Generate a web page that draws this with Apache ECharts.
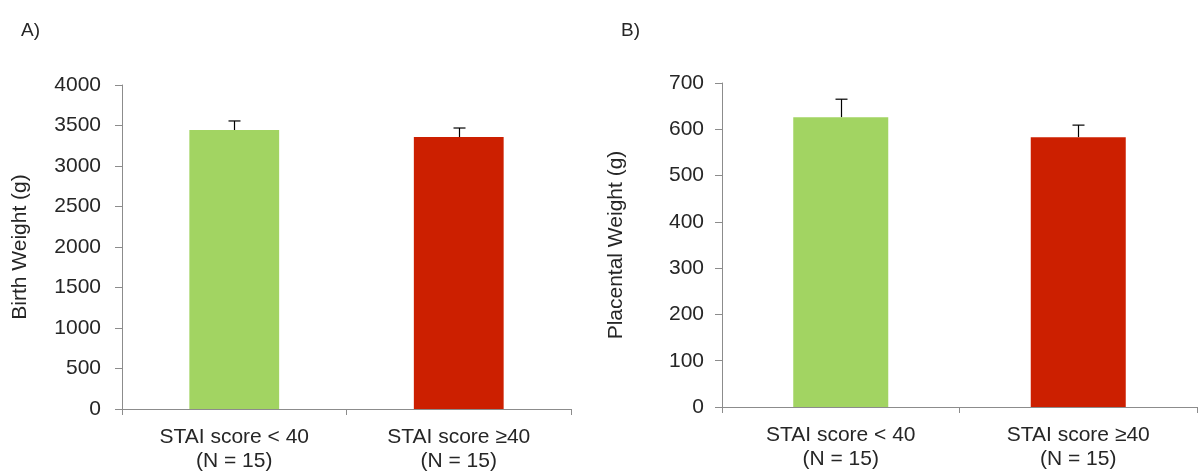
<!DOCTYPE html>
<html><head><meta charset="utf-8">
<script src="https://cdn.jsdelivr.net/npm/echarts@6/dist/echarts.min.js"></script>
<style>html,body{margin:0;padding:0;background:#fff}#c{width:1202px;height:474px}</style>
</head><body><div id="c"></div>
<script>
const categories = ['STAI score < 40\n(N = 15)', 'STAI score \u226540\n(N = 15)'];
const birthWeight = [3444, 3358];
const birthWeightErr = [112, 111];
const placentalWeight = [626, 583];
const placentalWeightErr = [39, 26];
const barColors = ['#a2d462', '#cc1f00'];
const yTicksA = {min: 0, max: 4000, interval: 500};
const yTicksB = {min: 0, max: 700, interval: 100};

const chart = echarts.init(document.getElementById('c'));
const font = 'Liberation Sans, Arial, sans-serif';
const axisGray = '#8c8c8c';
const textColor = '#262626';

function yAxis(grid, t, name, gap, margin) {
  return {
    type: 'value', gridIndex: grid, min: t.min, max: t.max, interval: t.interval,
    name: name, nameLocation: 'middle', nameGap: gap, nameRotate: 90,
    nameTextStyle: {fontFamily: font, fontSize: 21, color: textColor},
    axisLine: {show: true, lineStyle: {color: axisGray, width: 1}},
    axisTick: {show: true, length: 7, lineStyle: {color: axisGray}},
    axisLabel: {fontFamily: font, fontSize: 21, color: textColor, margin: margin,
      formatter: function (v) { return String(v); }},
    splitLine: {show: false}
  };
}
function xAxis(grid) {
  return {
    type: 'category', gridIndex: grid, data: categories,
    axisLine: {show: true, lineStyle: {color: axisGray, width: 1}},
    axisTick: {show: true, length: 6, lineStyle: {color: axisGray}},
    axisLabel: {fontFamily: font, fontSize: 21, color: textColor, margin: 16, lineHeight: 24}
  };
}
function bars(grid, vals) {
  return {
    type: 'bar', xAxisIndex: grid, yAxisIndex: grid, barWidth: '40%',
    data: vals.map((v, i) => ({value: v, itemStyle: {color: barColors[i]}})),
    silent: true, z: 2
  };
}
function errs(grid, vals, e) {
  return {
    type: 'custom', xAxisIndex: grid, yAxisIndex: grid, z: 1, silent: true,
    data: vals.map((v, i) => [i, v, v + e[i]]),
    renderItem: function (params, api) {
      const p0 = api.coord([api.value(0), api.value(1)]);
      const p1 = api.coord([api.value(0), api.value(2)]);
      const x = Math.round(p0[0]) + 0.5;
      const hw = 6;
      return {
        type: 'group', children: [
          {type: 'line', shape: {x1: x, y1: p0[1], x2: x, y2: p1[1]}, style: {stroke: '#000', lineWidth: 1.2}},
          {type: 'line', shape: {x1: x - hw, y1: p1[1], x2: x + hw, y2: p1[1]}, style: {stroke: '#000', lineWidth: 1.2}}
        ]
      };
    }
  };
}

chart.setOption({
  animation: false,
  backgroundColor: '#fff',
  title: [
    {text: 'A)', left: 16, top: 16, textStyle: {fontFamily: font, fontSize: 19, fontWeight: 'normal', color: textColor}},
    {text: 'B)', left: 616, top: 16, textStyle: {fontFamily: font, fontSize: 19, fontWeight: 'normal', color: textColor}}
  ],
  grid: [
    {left: 122, right: 631, top: 85, bottom: 65},
    {left: 722, right: 5, top: 83, bottom: 67}
  ],
  xAxis: [xAxis(0), xAxis(1)],
  yAxis: [yAxis(0, yTicksA, 'Birth Weight (g)', 91, 21), yAxis(1, yTicksB, 'Placental Weight (g)', 95, 18)],
  series: [
    bars(0, birthWeight), errs(0, birthWeight, birthWeightErr),
    bars(1, placentalWeight), errs(1, placentalWeight, placentalWeightErr)
  ]
});
</script></body></html>
